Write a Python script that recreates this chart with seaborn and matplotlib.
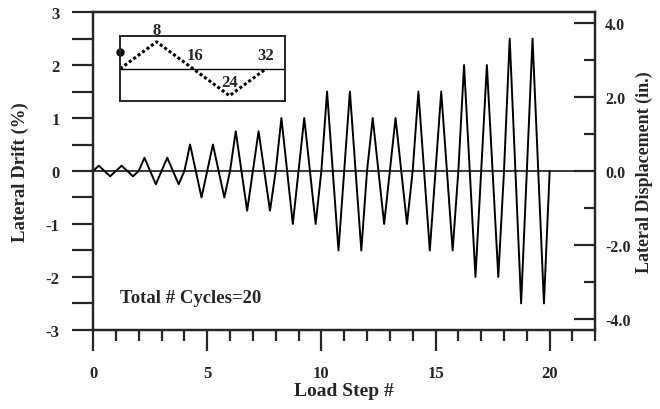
import numpy as np
import pandas as pd
import matplotlib
matplotlib.use("Agg")
import matplotlib.pyplot as plt
from matplotlib.ticker import MultipleLocator, FixedLocator, FormatStrFormatter
import seaborn as sns

# ---- data ----
cycle_amplitudes = [0.1, 0.1, 0.25, 0.25, 0.5, 0.5, 0.75, 0.75, 1.0, 1.0,
                    1.5, 1.5, 1.0, 1.0, 1.5, 1.5, 2.0, 2.0, 2.5, 2.5]  # % drift
phase_fractions = [0.0, 0.25, 0.75]
phase_signs = [0, 1, -1]
inset_steps = [0, 8, 24, 32]
inset_levels = [0, 1, -1, 0]
inset_labels = ["8", "16", "24", "32"]
inset_label_x = [8, 16.5, 24, 32]
inset_label_y = [1.45, 0.52, -0.5, 0.52]
in_per_pct = 1 / 0.698
x_ticks = [0, 5, 10, 15, 20]
y_ticks = [-3, -2, -1, 0, 1, 2, 3]
y2_ticks = [-4.0, -2.0, 0.0, 2.0, 4.0]

xs, ys = [], []
for i, a in enumerate(cycle_amplitudes):
    for f, s in zip(phase_fractions, phase_signs):
        xs.append(i + f)
        ys.append(s * a)
xs.append(len(cycle_amplitudes))
ys.append(0.0)
df = pd.DataFrame({"step": xs, "drift": ys})
df_in = pd.DataFrame({"step": inset_steps, "level": inset_levels})

sns.set_style("ticks")
plt.rcParams["font.family"] = ["Liberation Serif", "DejaVu Serif"]
plt.rcParams["font.weight"] = "bold"
plt.rcParams["axes.unicode_minus"] = False

fig = plt.figure(figsize=(6.6, 4.1), dpi=100)
ax = fig.add_axes([0.141, 0.193, 0.761, 0.775])
sns.lineplot(data=df, x="step", y="drift", ax=ax, color="black", lw=1.4,
             estimator=None, sort=False)
ax.axhline(0, color="black", lw=1.1)
ax.set_xlim(0, 22)
ax.set_ylim(-3, 3)
for s in ax.spines.values():
    s.set_linewidth(1.6)
    s.set_color("black")
ax.xaxis.set_major_locator(FixedLocator(x_ticks))
ax.xaxis.set_minor_locator(MultipleLocator(1))
ax.yaxis.set_major_locator(FixedLocator(y_ticks))
ax.yaxis.set_minor_locator(MultipleLocator(0.5))
ax.tick_params(axis="x", which="major", direction="out", length=15, width=1.6,
               labelsize=12, pad=10, top=False)
ax.tick_params(axis="x", which="minor", direction="out", length=8, width=1.6, top=False)
ax.tick_params(axis="y", which="major", direction="out", length=15, width=1.6,
               labelsize=12, pad=9, right=False)
ax.tick_params(axis="y", which="minor", direction="out", length=15, width=1.6, right=False)
for lab in ax.get_xticklabels() + ax.get_yticklabels():
    lab.set_fontweight("bold")
ax.set_xlabel("Load Step #", fontsize=14, fontweight="bold", labelpad=1)
ax.set_ylabel("Lateral Drift (%)", fontsize=13.5, fontweight="bold", labelpad=12)
ax.text(1.2, -2.38, "Total # Cycles=20", fontsize=13.5, fontweight="bold",
        va="center", ha="left")

ax2 = ax.twinx()
ax2.set_ylim(-3 * in_per_pct, 3 * in_per_pct)
ax2.yaxis.set_major_locator(FixedLocator(y2_ticks))
ax2.yaxis.set_minor_locator(MultipleLocator(1.0))
ax2.yaxis.set_major_formatter(FormatStrFormatter("%.1f"))
ax2.tick_params(axis="y", which="major", direction="in", length=15, width=1.6,
                labelsize=11.5, pad=7)
ax2.tick_params(axis="y", which="minor", direction="in", length=8, width=1.6)
for lab in ax2.get_yticklabels():
    lab.set_fontweight("bold")
ax2.set_ylabel("Lateral Displacement (in.)", fontsize=13, fontweight="bold", labelpad=4)
for s in ax2.spines.values():
    s.set_linewidth(1.6)

# inset
axi = fig.add_axes([0.182, 0.751, 0.250, 0.159])
sns.lineplot(data=df_in, x="step", y="level", ax=axi, color="black", lw=2.2,
             linestyle=(0, (1, 0.8)), estimator=None, sort=False)
axi.axhline(0, color="black", lw=1.0)
axi.plot([0], [0.62], marker="o", color="black", ms=5, clip_on=False)
axi.set_xlim(0, 36.2)
axi.set_ylim(-1.2, 1.22)
axi.set_xticks([])
axi.set_yticks([])
axi.set_xlabel("")
axi.set_ylabel("")
for s in axi.spines.values():
    s.set_linewidth(1.4)
for t, tx, ty in zip(inset_labels, inset_label_x, inset_label_y):
    axi.text(tx, ty, t, fontsize=12, fontweight="bold", ha="center", va="center",
             clip_on=False)

fig.savefig("out.png", dpi=100)
